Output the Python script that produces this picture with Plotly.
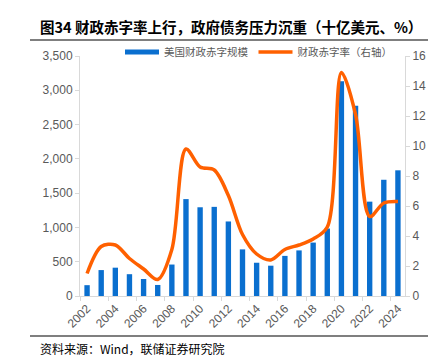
import plotly.graph_objects as go

years = [str(y) for y in range(2002, 2025)]
deficit_bn = [158, 378, 413, 318, 248, 161, 459, 1413, 1294, 1300, 1087, 680,
              485, 442, 585, 665, 779, 984, 3132, 2775, 1376, 1695, 1833]
deficit_pct = [1.5, 3.3, 3.4, 2.5, 1.8, 1.1, 3.1, 9.8, 8.6, 8.4, 6.7, 4.1,
               2.8, 2.4, 3.1, 3.4, 3.8, 4.6, 14.9, 12.1, 5.3, 6.2, 6.3]
left_ticks = [0, 500, 1000, 1500, 2000, 2500, 3000, 3500]
right_ticks = [0, 2, 4, 6, 8, 10, 12, 14, 16]

title_text = "图34 财政赤字率上行，政府债务压力沉重（十亿美元、%）"
source_text = "资料来源：Wind，联储证券研究院"
bar_name = "美国财政赤字规模"
line_name = "财政赤字率（右轴）"

BLUE = "#0A6FCF"
ORANGE = "#FF6000"
GREY_TXT = "#595959"
AXIS = "#D9D9D9"
FONT = "Liberation Sans, Arial, Noto Sans CJK SC"

L, R, T, B = 72, 397, 48, 288
PW, PH = R - L, B - T

fig = go.Figure()
fig.add_trace(go.Bar(
    x=years, y=deficit_bn, name=bar_name, showlegend=False,
    marker=dict(color=BLUE, line=dict(width=0)), width=0.38, yaxis="y"))
# legend entry for the bars (drawn as a wide swatch like the reference)
fig.add_trace(go.Scatter(
    x=[None], y=[None], name=bar_name, mode="lines",
    line=dict(color=BLUE, width=5), yaxis="y"))
fig.add_trace(go.Scatter(
    x=years, y=deficit_pct, name=line_name, mode="lines",
    line=dict(color=ORANGE, width=3.5, shape="spline", smoothing=0.9), yaxis="y2"))

fig.update_layout(
    width=436, height=363,
    margin=dict(l=L, r=436 - R, t=T, b=363 - B, autoexpand=False),
    paper_bgcolor="white", plot_bgcolor="white",
    font=dict(family=FONT, size=12, color=GREY_TXT),
    showlegend=True,
    legend=dict(orientation="h", x=(112 - L) / PW, y=1 + (T - 44) / PH,
                xanchor="left", yanchor="middle", itemwidth=34,
                font=dict(family="Noto Sans CJK SC", size=10.5, color=GREY_TXT),
                tracegroupgap=0, bgcolor="rgba(0,0,0,0)"),
    bargap=0.6,
    xaxis=dict(type="category", tickangle=-45, dtick=2, tickson="boundaries",
               showline=True, linecolor=AXIS, linewidth=1, ticks="outside",
               tickcolor=AXIS, ticklen=4, showgrid=False,
               tickfont=dict(size=12, color=GREY_TXT)),
    yaxis=dict(range=[0, 3500], tickvals=left_ticks, tickformat=",",
               showline=True, linecolor=AXIS, linewidth=1, ticks="outside",
               tickcolor=AXIS, ticklen=4, showgrid=False, zeroline=False,
               tickfont=dict(size=12, color=GREY_TXT)),
    yaxis2=dict(range=[0, 16], tickvals=right_ticks, overlaying="y", side="right",
                showline=True, linecolor=AXIS, linewidth=1, ticks="outside",
                tickcolor=AXIS, ticklen=4, showgrid=False, zeroline=False,
                tickfont=dict(size=12, color=GREY_TXT)),
)

fig.add_annotation(text="<b>" + title_text + "</b>", xref="paper", yref="paper",
                   x=(30 - L) / PW, y=1 + (T - 18) / PH, xanchor="left", yanchor="middle",
                   showarrow=False, font=dict(family="Noto Sans CJK SC", size=14.5, color="#000000"))
fig.add_annotation(text=source_text, xref="paper", yref="paper",
                   x=(30 - L) / PW, y=-(340 - B) / PH, xanchor="left", yanchor="middle",
                   showarrow=False, font=dict(family="Noto Sans CJK SC", size=12, color="#000000"))
fig.add_shape(type="line", xref="paper", yref="paper",
              x0=(22 - L) / PW, x1=(430 - L) / PW,
              y0=1 + (T - 32) / PH, y1=1 + (T - 32) / PH,
              line=dict(color="#7F7F7F", width=2))
fig.add_shape(type="line", xref="paper", yref="paper",
              x0=(22 - L) / PW, x1=(428 - L) / PW,
              y0=-(328 - B) / PH, y1=-(328 - B) / PH,
              line=dict(color="#000000", width=1.2))

fig.write_html("out.html")
